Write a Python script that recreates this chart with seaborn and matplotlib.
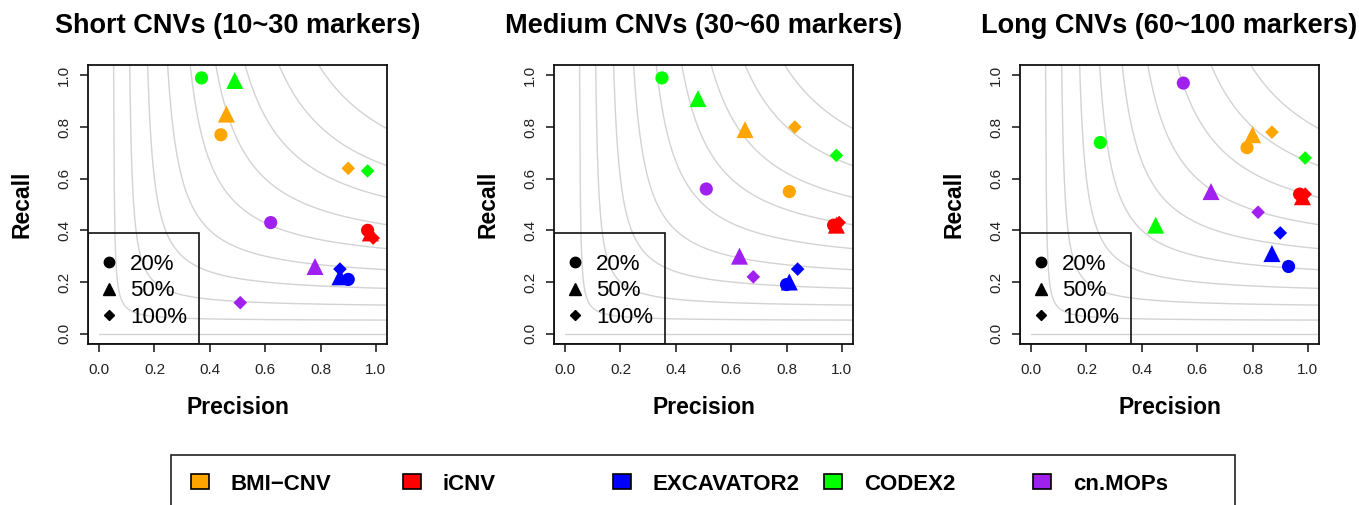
import numpy as np
import pandas as pd
import seaborn as sns
import matplotlib.pyplot as plt
from matplotlib.lines import Line2D
from matplotlib.patches import Patch, Rectangle

# methods and thresholds (method-major order: 20%, 50%, 100% for each method)
methods = ["BMI−CNV", "iCNV", "EXCAVATOR2", "CODEX2", "cn.MOPs"]
thresholds = ["20%", "50%", "100%"]
colors = ["#FFA500", "#FF0000", "#0000FF", "#00FF00", "#A020F0"]

titles = ["Short CNVs (10~30 markers)",
          "Medium CNVs (30~60 markers)",
          "Long CNVs (60~100 markers)"]

short_precision = [0.44, 0.46, 0.90, 0.97, 0.98, 0.99, 0.90, 0.87, 0.87,
                   0.37, 0.49, 0.97, 0.62, 0.78, 0.51]
short_recall = [0.77, 0.85, 0.64, 0.40, 0.39, 0.37, 0.21, 0.22, 0.25,
                0.99, 0.98, 0.63, 0.43, 0.26, 0.12]

medium_precision = [0.81, 0.65, 0.83, 0.97, 0.98, 0.99, 0.80, 0.81, 0.84,
                    0.35, 0.48, 0.98, 0.51, 0.63, 0.68]
medium_recall = [0.55, 0.79, 0.80, 0.42, 0.42, 0.43, 0.19, 0.20, 0.25,
                 0.99, 0.91, 0.69, 0.56, 0.30, 0.22]

long_precision = [0.78, 0.80, 0.87, 0.97, 0.98, 0.99, 0.93, 0.87, 0.90,
                  0.25, 0.45, 0.99, 0.55, 0.65, 0.82]
long_recall = [0.72, 0.77, 0.78, 0.54, 0.53, 0.54, 0.26, 0.31, 0.39,
               0.74, 0.42, 0.68, 0.97, 0.55, 0.47]

# iso F-score curves in the background
f_levels = [0.0, 0.1, 0.2, 0.3, 0.4, 0.5, 0.6, 0.7, 0.8, 0.9]

panels = [(short_precision, short_recall),
          (medium_precision, medium_recall),
          (long_precision, long_recall)]

sns.set_style("white")
plt.rcParams["font.family"] = ["Liberation Sans", "DejaVu Sans"]
plt.rcParams["text.color"] = "black"
plt.rcParams["axes.labelcolor"] = "black"

W, H = 1359, 505
fig = plt.figure(figsize=(W / 100, H / 100), dpi=100)

palette = dict(zip(methods, colors))
marker_map = {"20%": "o", "50%": "^", "100%": "D"}
size_map = {"20%": 90, "50%": 150, "100%": 48}

lefts = [88, 554, 1020]
for i, (prec, rec) in enumerate(panels):
    ax = fig.add_axes([lefts[i] / W, (H - 344) / H, 299 / W, 279 / H])

    for f in f_levels:
        if f == 0:
            ax.plot([0, 1.05], [0, 0], color="#D3D3D3", lw=1, zorder=1)
            continue
        p = np.linspace(f / 2 + 1e-4, 1.05, 400)
        r = f * p / (2 * p - f)
        ax.plot(p, r, color="#D3D3D3", lw=1, zorder=1)

    df = pd.DataFrame({
        "Precision": prec,
        "Recall": rec,
        "method": np.repeat(methods, 3),
        "threshold": thresholds * 5,
    })
    sns.scatterplot(data=df, x="Precision", y="Recall", hue="method",
                    style="threshold", size="threshold", palette=palette,
                    markers=marker_map, sizes=size_map, linewidth=0,
                    legend=False, ax=ax, zorder=3)

    ax.set_xlim(-0.04, 1.04)
    ax.set_ylim(-0.04, 1.04)
    ticks = [0.0, 0.2, 0.4, 0.6, 0.8, 1.0]
    ax.set_xticks(ticks)
    ax.set_yticks(ticks)
    ax.set_xticklabels([f"{t:.1f}" for t in ticks])
    ax.set_yticklabels([f"{t:.1f}" for t in ticks], rotation=90, va="center")
    ax.tick_params(axis="both", direction="out", length=6, width=1.1,
                   labelsize=11, colors="#111111", labelcolor="#222222",
                   bottom=True, left=True)
    ax.tick_params(axis="x", pad=8)
    ax.tick_params(axis="y", pad=6)
    for s in ax.spines.values():
        s.set_color("#111111")
        s.set_linewidth(1.3)

    ax.set_xlabel("Precision", fontsize=16.5, fontweight="bold", va="center")
    ax.set_ylabel("Recall", fontsize=16.5, fontweight="bold", va="center",
                  rotation=90)
    ax.xaxis.set_label_coords(0.5, -63 / 279)
    ax.yaxis.set_label_coords(-66 / 299, 0.5)
    ax.set_title(titles[i], fontsize=19.5, fontweight="bold", pad=23)

    # threshold legend box in the lower left
    ax.add_patch(Rectangle((0, 0), 111 / 299, 111 / 279, transform=ax.transAxes,
                           fill=False, ec="#111111", lw=1.2, zorder=4))
    handles = [
        Line2D([], [], ls="", marker="o", color="black", markersize=7.5),
        Line2D([], [], ls="", marker="^", color="black", markersize=9),
        Line2D([], [], ls="", marker="D", color="black", markersize=4.8),
    ]
    ax.legend(handles, thresholds, loc="center left",
              bbox_to_anchor=(10 / 299, 0.19), frameon=False, borderpad=0,
              borderaxespad=0, handlelength=1.0, handletextpad=0.45,
              labelspacing=0.26, fontsize=16)

# method legend along the bottom
fig.add_artist(Rectangle((171 / W, -0.1), (1235 - 171) / W, 0.1 + (H - 455) / H,
                         transform=fig.transFigure, fill=False,
                         ec="#222222", lw=1.2))
square_x = [200, 412, 622, 833, 1042]
for name, col, sx in zip(methods, colors, square_x):
    fig.legend([Patch(facecolor=col, edgecolor="black", lw=1.2)], [name],
               loc="center left", bbox_to_anchor=((sx - 9) / W, (H - 484) / H),
               frameon=False, borderpad=0, borderaxespad=0,
               handlelength=0.8, handleheight=0.64, handletextpad=1.0,
               prop={"weight": "bold", "size": 16})

fig.savefig("out.png", dpi=100)
